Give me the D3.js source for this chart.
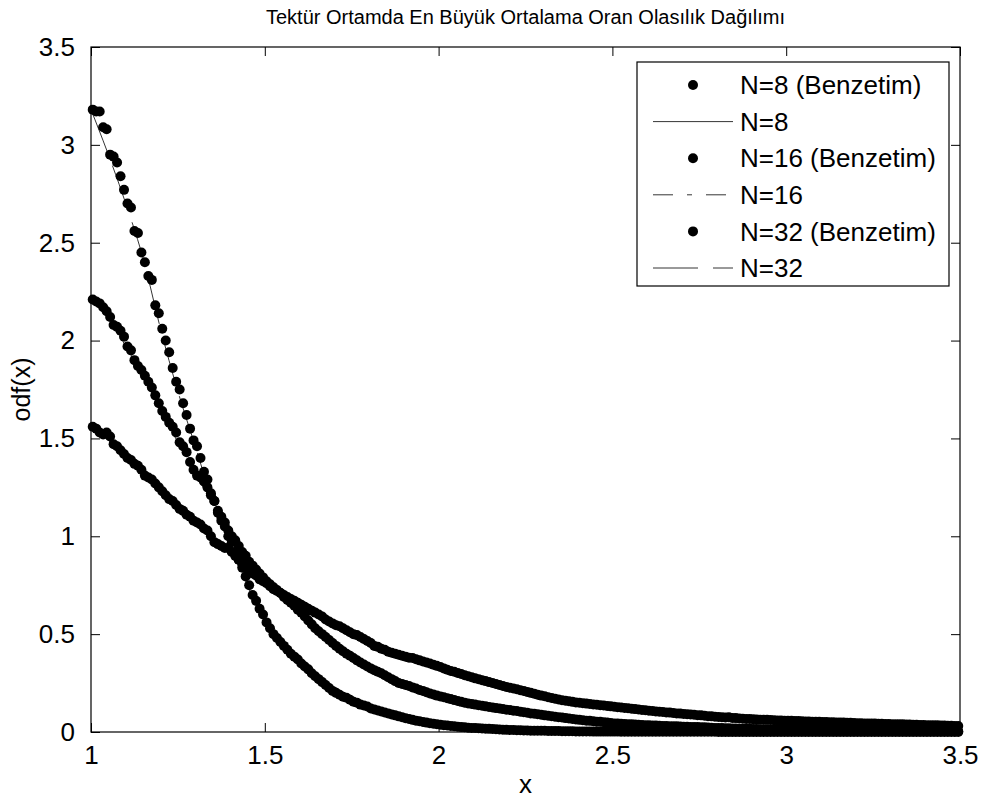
<!DOCTYPE html>
<html>
<head>
<meta charset="utf-8">
<script src="https://cdnjs.cloudflare.com/ajax/libs/d3/7.8.5/d3.min.js"></script>
<style>
body { margin: 0; background: #fff; }
text { font-family: "Liberation Sans", Arial, Helvetica, sans-serif; fill: #000; }
</style>
</head>
<body>
<script>
// simulated histogram values, one per bin, bins 0.01 wide starting at 1.005
var binStart = 1.005, binStep = 0.01;

var sim8 = [
1.56,1.55,1.53,1.52,1.53,1.51,1.47,1.46,1.44,1.42,
1.40,1.39,1.37,1.36,1.34,1.31,1.30,1.29,1.27,1.25,
1.23,1.21,1.19,1.18,1.16,1.14,1.13,1.11,1.10,1.08,
1.07,1.06,1.04,1.03,1.00,0.97,0.96,0.95,0.94,0.94,
0.92,0.90,0.88,0.86,0.84,0.83,0.81,0.80,0.78,0.77,
0.76,0.745,0.73,0.72,0.71,0.70,0.69,0.68,0.67,0.66,
0.65,0.64,0.63,0.62,0.61,0.60,0.59,0.575,0.565,0.555,
0.545,0.54,0.53,0.52,0.51,0.50,0.495,0.485,0.475,0.465,
0.455,0.44,0.435,0.425,0.42,0.41,0.405,0.40,0.395,0.39,
0.385,0.38,0.378,0.372,0.366,0.36,0.355,0.35,0.344,0.338,
0.332,0.325,0.318,0.312,0.308,0.302,0.296,0.29,0.285,0.28,
0.274,0.27,0.265,0.26,0.255,0.25,0.245,0.24,0.235,0.23,
0.226,0.222,0.218,0.213,0.21,0.205,0.2,0.196,0.19,0.186,
0.183,0.178,0.174,0.17,0.166,0.162,0.16,0.157,0.154,0.151,
0.149,0.147,0.145,0.143,0.141,0.139,0.137,0.135,0.133,0.131,
0.129,0.127,0.125,0.123,0.121,0.119,0.117,0.115,0.113,0.111,
0.109,0.107,0.105,0.104,0.102,0.1,0.099,0.097,0.095,0.094,
0.092,0.091,0.089,0.088,0.086,0.085,0.083,0.081,0.08,0.078,
0.077,0.076,0.074,0.075,0.072,0.071,0.069,0.068,0.067,0.066,
0.065,0.064,0.063,0.063,0.062,0.061,0.06,0.059,0.059,0.058,
0.057,0.057,0.056,0.056,0.055,0.054,0.054,0.053,0.053,0.052,
0.051,0.051,0.05,0.05,0.049,0.048,0.048,0.047,0.047,0.046,
0.045,0.045,0.044,0.044,0.043,0.043,0.042,0.042,0.041,0.041,
0.04,0.04,0.039,0.039,0.038,0.038,0.037,0.037,0.036,0.036,
0.035,0.035,0.034,0.034,0.033,0.033,0.032,0.032,0.031,0.031
];

var sim16 = [
2.21,2.20,2.19,2.17,2.15,2.12,2.08,2.07,2.05,2.02,
1.97,1.95,1.90,1.87,1.85,1.82,1.79,1.76,1.72,1.68,
1.64,1.61,1.58,1.56,1.53,1.48,1.46,1.43,1.38,1.34,
1.31,1.30,1.28,1.25,1.21,1.18,1.13,1.10,1.07,1.03,
1.00,0.98,0.95,0.92,0.90,0.87,0.85,0.83,0.81,0.79,
0.77,0.755,0.74,0.725,0.71,0.69,0.675,0.66,0.645,0.625,
0.61,0.59,0.57,0.55,0.53,0.515,0.50,0.485,0.47,0.455,
0.44,0.425,0.413,0.40,0.39,0.378,0.366,0.355,0.345,0.335,
0.325,0.316,0.308,0.30,0.29,0.28,0.27,0.26,0.25,0.245,
0.24,0.235,0.228,0.222,0.215,0.21,0.203,0.197,0.192,0.186,
0.182,0.178,0.172,0.168,0.163,0.158,0.154,0.15,0.146,0.143,
0.14,0.137,0.134,0.131,0.128,0.125,0.122,0.12,0.117,0.114,
0.112,0.109,0.107,0.104,0.101,0.098,0.095,0.093,0.091,0.088,
0.085,0.083,0.081,0.078,0.076,0.074,0.071,0.069,0.067,0.064,
0.062,0.06,0.058,0.057,0.055,0.053,0.052,0.05,0.048,0.046,
0.044,0.043,0.042,0.041,0.04,0.039,0.038,0.037,0.036,0.035,
0.034,0.033,0.033,0.032,0.031,0.031,0.03,0.029,0.029,0.028,
0.027,0.027,0.026,0.026,0.025,0.024,0.024,0.023,0.022,0.021,
0.02,0.02,0.019,0.019,0.018,0.018,0.017,0.017,0.016,0.016,
0.015,0.015,0.014,0.014,0.014,0.013,0.013,0.013,0.012,0.012,
0.012,0.011,0.011,0.011,0.011,0.01,0.01,0.01,0.01,0.01,
0.009,0.009,0.009,0.009,0.009,0.008,0.008,0.008,0.008,0.008,
0.008,0.007,0.007,0.007,0.007,0.007,0.007,0.006,0.006,0.006,
0.006,0.006,0.006,0.006,0.006,0.005,0.005,0.005,0.005,0.005,
0.005,0.005,0.005,0.004,0.004,0.004,0.004,0.004,0.004,0.004
];

var sim32 = [
3.18,3.17,3.17,3.09,3.08,2.95,2.94,2.91,2.84,2.77,
2.70,2.68,2.56,2.55,2.45,2.40,2.33,2.31,2.18,2.14,
2.06,2.00,1.94,1.86,1.79,1.75,1.68,1.62,1.55,1.49,
1.46,1.40,1.33,1.29,1.22,1.18,1.12,1.08,1.05,1.00,
0.97,0.92,0.88,0.84,0.795,0.75,0.70,0.67,0.63,0.60,
0.56,0.53,0.50,0.48,0.46,0.44,0.42,0.40,0.385,0.37,
0.35,0.335,0.32,0.30,0.285,0.27,0.255,0.24,0.225,0.21,
0.20,0.19,0.18,0.175,0.165,0.155,0.15,0.14,0.135,0.13,
0.12,0.115,0.11,0.105,0.10,0.095,0.09,0.085,0.08,0.075,
0.07,0.066,0.062,0.058,0.055,0.051,0.048,0.045,0.042,0.04,
0.037,0.035,0.033,0.031,0.029,0.027,0.025,0.024,0.022,0.021,
0.02,0.019,0.018,0.017,0.016,0.015,0.014,0.013,0.012,0.011,
0.01,0.01,0.009,0.009,0.008,0.008,0.007,0.007,0.006,0.006,
0.006,0.005,0.005,0.005,0.005,0.004,0.004,0.004,0.004,0.003,
0.003,0.003,0.003,0.003,0.002,0.002,0.002,0.002,0.002,0.002,
0.002,0.002,0.001,0.001,0.001,0.001,0.001,0.001,0.001,0.001,
0.001,0.001,0.001,0.001,0.001,0.001,0.001,0.001,0.001,0.001,
0.001,0.001,0.001,0.001,0.001,0.001,0.001,0.001,0.001,0.001,
0,0,0,0,0,0,0,0,0,0,
0,0,0,0,0,0,0,0,0,0,
0,0,0,0,0,0,0,0,0,0,
0,0,0,0,0,0,0,0,0,0,
0,0,0,0,0,0,0,0,0,0,
0,0,0,0,0,0,0,0,0,0,
0,0,0,0,0,0,0,0,0,0
];

// analytic curves, sampled every 0.05 from 1 to 3.5
var thStart = 1.0, thStep = 0.05;

var th8 = [
1.55,1.49,1.40,1.32,1.23,1.14,1.07,0.99,0.92,0.83,
0.76,0.70,0.65,0.60,0.545,0.50,0.455,0.42,0.39,0.365,
0.33,0.30,0.275,0.245,0.225,0.205,0.185,0.165,0.15,0.14,
0.13,0.12,0.11,0.10,0.093,0.085,0.077,0.07,0.064,0.06,
0.057,0.054,0.051,0.048,0.045,0.042,0.04,0.037,0.035,0.032,
0.03
];

var th16 = [
2.21,2.12,1.97,1.82,1.64,1.48,1.31,1.18,1.00,0.87,
0.77,0.69,0.61,0.515,0.44,0.378,0.325,0.28,0.24,0.21,
0.182,0.158,0.14,0.125,0.112,0.098,0.085,0.074,0.062,0.053,
0.044,0.039,0.034,0.031,0.027,0.024,0.02,0.018,0.015,0.013,
0.012,0.011,0.01,0.009,0.008,0.007,0.006,0.006,0.005,0.005,
0.004
];

var th32 = [
3.18,2.95,2.70,2.42,2.06,1.74,1.46,1.18,0.97,0.75,
0.56,0.44,0.35,0.27,0.20,0.155,0.12,0.095,0.07,0.05,
0.037,0.027,0.02,0.015,0.01,0.008,0.006,0.005,0.004,0.003,
0.002,0.002,0.001,0.001,0.001,0.001,0,0,0,0,
0,0,0,0,0,0,0,0,0,0,
0
];

var xTicks = [1, 1.5, 2, 2.5, 3, 3.5];
var yTicks = [0, 0.5, 1, 1.5, 2, 2.5, 3, 3.5];

var legendLabels = ['N=8 (Benzetim)', 'N=8', 'N=16 (Benzetim)', 'N=16', 'N=32 (Benzetim)', 'N=32'];

var titleText = 'Tektür Ortamda En Büyük Ortalama Oran Olasılık Dağılımı';

var W = 984, H = 803;
// plot box
var pL = 91, pT = 47, pR = 960, pB = 732;
var dotR = 5;
var fontSize = 26;

var svg = d3.select('body').append('svg')
    .attr('width', W)
    .attr('height', H);

var x = d3.scaleLinear().domain([1, 3.5]).range([pL, pR]);
var y = d3.scaleLinear().domain([0, 3.5]).range([pB, pT]);

function toPoints(vals, start, step) {
    return vals.map(function (v, i) { return [start + i * step, v]; });
}

var line = d3.line()
    .x(function (d) { return x(d[0]); })
    .y(function (d) { return y(d[1]); })
    .curve(d3.curveMonotoneX);

// series in the order they were plotted: dots, then the analytic line
var series = [
    { type: 'dots', data: toPoints(sim8, binStart, binStep) },
    { type: 'line', data: toPoints(th8, thStart, thStep), dash: null },
    { type: 'dots', data: toPoints(sim16, binStart, binStep) },
    { type: 'line', data: toPoints(th16, thStart, thStep), dash: '20,14,5,14' },
    { type: 'dots', data: toPoints(sim32, binStart, binStep) },
    { type: 'line', data: toPoints(th32, thStart, thStep), dash: '45,15' }
];

var plot = svg.append('g');

series.forEach(function (s) {
    if (s.type == 'dots') {
        plot.append('g').selectAll('circle')
            .data(s.data)
            .enter()
            .append('circle')
            .attr('cx', function (d) { return x(d[0]); })
            .attr('cy', function (d) { return y(d[1]); })
            .attr('r', dotR)
            .attr('fill', '#000');
    } else {
        plot.append('path')
            .datum(s.data)
            .attr('d', line)
            .attr('fill', 'none')
            .attr('stroke', '#000')
            .attr('stroke-width', 0.8)
            .attr('stroke-dasharray', s.dash);
    }
});

// axes box with inward ticks on all four sides
var tickLen = 9;

svg.append('rect')
    .attr('x', pL)
    .attr('y', pT)
    .attr('width', pR - pL)
    .attr('height', pB - pT)
    .attr('fill', 'none')
    .attr('stroke', '#000')
    .attr('stroke-width', 1.2);

var xAxis = d3.axisBottom(x).tickValues(xTicks).tickSizeInner(-tickLen).tickSizeOuter(0)
    .tickPadding(14).tickFormat(d3.format('~g'));
var yAxis = d3.axisLeft(y).tickValues(yTicks).tickSizeInner(-tickLen).tickSizeOuter(0)
    .tickPadding(16).tickFormat(d3.format('~g'));

var gx = svg.append('g').attr('transform', 'translate(0,' + pB + ')').call(xAxis);
var gy = svg.append('g').attr('transform', 'translate(' + pL + ',0)').call(yAxis);

var gxTop = svg.append('g').attr('transform', 'translate(0,' + pT + ')')
    .call(d3.axisTop(x).tickValues(xTicks).tickSizeInner(-tickLen).tickSizeOuter(0).tickFormat(''));
var gyRight = svg.append('g').attr('transform', 'translate(' + pR + ',0)')
    .call(d3.axisRight(y).tickValues(yTicks).tickSizeInner(-tickLen).tickSizeOuter(0).tickFormat(''));

[gx, gy, gxTop, gyRight].forEach(function (g) {
    g.select('.domain').remove();
    g.selectAll('line').attr('stroke', '#000').attr('stroke-width', 1);
    g.selectAll('text')
        .style('font-family', '"Liberation Sans", Arial, Helvetica, sans-serif')
        .style('font-size', fontSize + 'px')
        .attr('fill', '#000');
});

// titles
svg.append('text')
    .attr('x', (pL + pR) / 2)
    .attr('y', 24)
    .attr('text-anchor', 'middle')
    .style('font-size', '20px')
    .text(titleText);

svg.append('text')
    .attr('x', (pL + pR) / 2)
    .attr('y', 793)
    .attr('text-anchor', 'middle')
    .style('font-size', fontSize + 'px')
    .text('x');

svg.append('text')
    .attr('transform', 'translate(30,' + ((pT + pB) / 2) + ') rotate(-90)')
    .attr('text-anchor', 'middle')
    .style('font-size', '25px')
    .text('odf(x)');

// legend
var lg = svg.append('g');
var lgL = 637, lgT = 62, lgR = 949, lgB = 286;
var rowY = d3.scaleLinear().domain([0, 5]).range([85, 268]);

lg.append('rect')
    .attr('x', lgL)
    .attr('y', lgT)
    .attr('width', lgR - lgL)
    .attr('height', lgB - lgT)
    .attr('fill', '#fff')
    .attr('stroke', '#000')
    .attr('stroke-width', 1.2);

legendLabels.forEach(function (lab, i) {
    var s = series[i];
    var ry = rowY(i);
    if (s.type == 'dots') {
        lg.append('circle')
            .attr('cx', 693)
            .attr('cy', ry)
            .attr('r', dotR)
            .attr('fill', '#000');
    } else {
        lg.append('line')
            .attr('x1', 653).attr('x2', 733)
            .attr('y1', ry).attr('y2', ry)
            .attr('stroke', '#000')
            .attr('stroke-width', 0.8)
            .attr('stroke-dasharray', s.dash);
    }
    lg.append('text')
        .attr('x', 740)
        .attr('y', ry)
        .attr('dy', '0.35em')
        .style('font-size', fontSize + 'px')
        .text(lab);
});
</script>
</body>
</html>
